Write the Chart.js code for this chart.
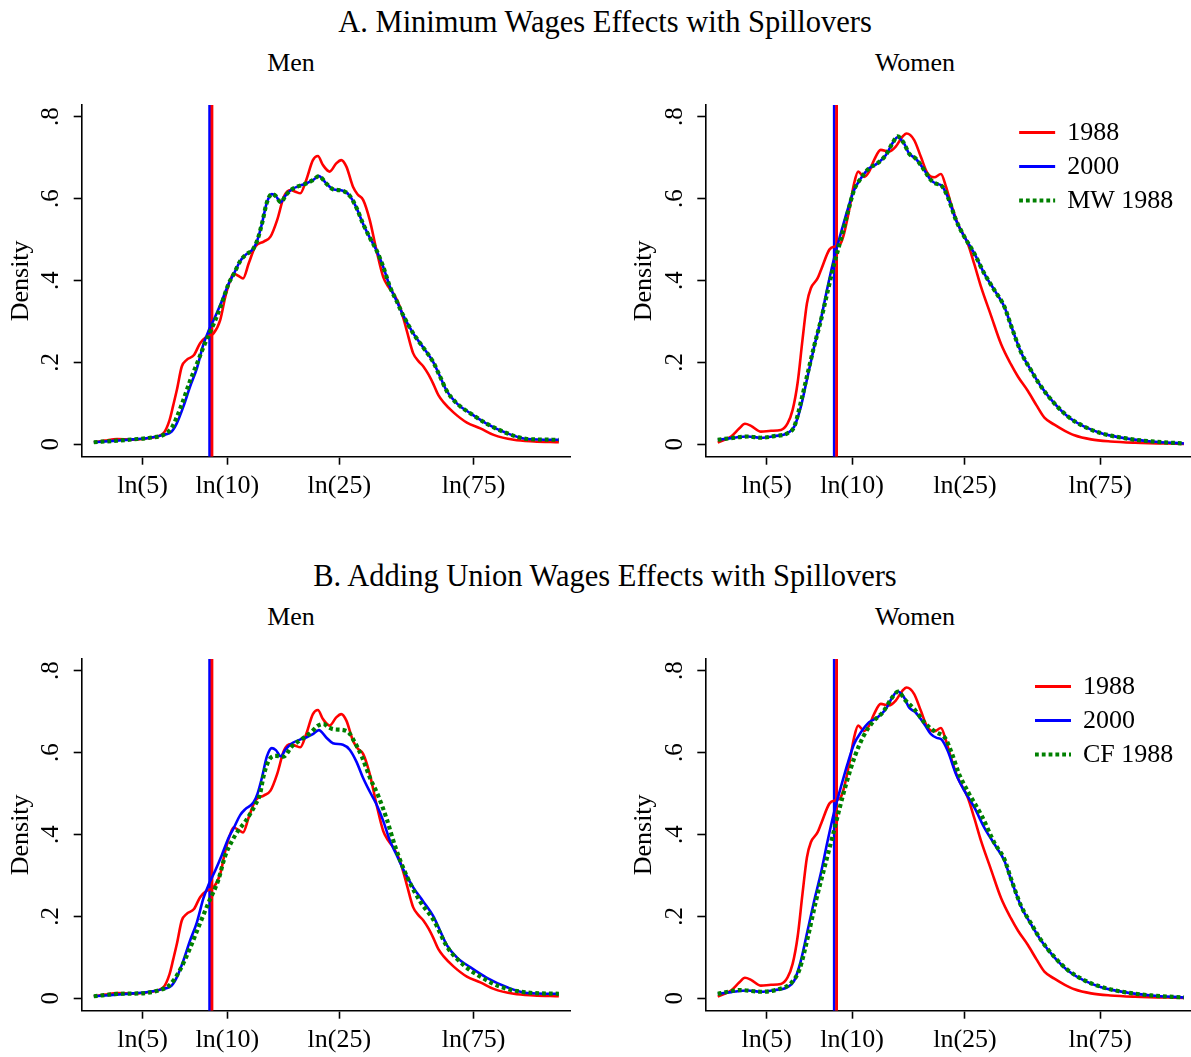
<!DOCTYPE html>
<html>
<head>
<meta charset="utf-8">
<script src="https://cdn.jsdelivr.net/npm/chart.js@4.4.0/dist/chart.umd.min.js"></script>
<style>
  html, body { margin: 0; padding: 0; background: #fff; }
  body { width: 1191px; height: 1057px; position: relative; overflow: hidden;
         font-family: 'Liberation Serif', 'Times New Roman', serif; color: #000; }
  .t { position: absolute; text-align: center; white-space: nowrap; }
  .main { font-size: 30.5px; line-height: 30px; width: 800px; }
  .sub { font-size: 26px; line-height: 26px; width: 200px; }
  canvas { position: absolute; }
</style>
</head>
<body>
<div class="t main" style="left:205px; top:7px;">A. Minimum Wages Effects with Spillovers</div>
<div class="t sub" style="left:191px; top:50px;">Men</div>
<div class="t sub" style="left:815px; top:50px;">Women</div>
<div class="t main" style="left:205px; top:561px;">B. Adding Union Wages Effects with Spillovers</div>
<div class="t sub" style="left:191px; top:604px;">Men</div>
<div class="t sub" style="left:815px; top:604px;">Women</div>

<canvas id="aMen" width="596" height="503" style="left:0px; top:0px;"></canvas>
<canvas id="aWomen" width="612" height="503" style="left:595px; top:0px;"></canvas>
<canvas id="bMen" width="596" height="503" style="left:0px; top:554px;"></canvas>
<canvas id="bWomen" width="612" height="503" style="left:595px; top:554px;"></canvas>

<script>
// axes: x = log hourly wage, y = kernel density
const xTickWages = [5, 10, 25, 75];
const xTickLabels = ['ln(5)', 'ln(10)', 'ln(25)', 'ln(75)'];
const yTickValues = [0, 0.2, 0.4, 0.6, 0.8];
const yTickLabels = ['0', '.2', '.4', '.6', '.8'];
const xMin = 1.111, xMax = 5.107;
const yMin = -0.0303, yMax = 0.8286;
const minWageLn = [2.177, 2.158]; // 1988, 2000

// men
const menLn88 = [1.21, 1.30, 1.40, 1.53, 1.67, 1.78, 1.83, 1.86, 1.89, 1.93, 1.97, 2.03, 2.08, 2.135, 2.19, 2.245, 2.286, 2.327, 2.354, 2.395, 2.431, 2.478, 2.532, 2.601, 2.656, 2.711, 2.766, 2.82, 2.86, 2.90, 2.948, 3.003, 3.044, 3.085, 3.14, 3.194, 3.235, 3.277, 3.331, 3.37, 3.414, 3.468, 3.523, 3.578, 3.62, 3.66, 3.715, 3.77, 3.824, 3.87, 3.907, 3.95, 3.989, 4.03, 4.071, 4.153, 4.263, 4.373, 4.482, 4.647, 4.811, 5.016];
const menDen88 = [0.005, 0.009, 0.013, 0.011, 0.016, 0.027, 0.059, 0.095, 0.133, 0.19, 0.206, 0.218, 0.247, 0.263, 0.271, 0.304, 0.36, 0.401, 0.417, 0.411, 0.405, 0.442, 0.483, 0.495, 0.507, 0.548, 0.605, 0.621, 0.617, 0.613, 0.645, 0.694, 0.704, 0.682, 0.666, 0.686, 0.694, 0.678, 0.629, 0.61, 0.597, 0.548, 0.474, 0.409, 0.385, 0.369, 0.336, 0.279, 0.222, 0.202, 0.19, 0.17, 0.147, 0.12, 0.103, 0.078, 0.053, 0.039, 0.023, 0.011, 0.007, 0.005];

const menLn00 = [1.21, 1.40, 1.53, 1.67, 1.78, 1.847, 1.889, 1.943, 1.998, 2.053, 2.108, 2.149, 2.204, 2.258, 2.313, 2.354, 2.409, 2.45, 2.516, 2.55, 2.587, 2.626, 2.667, 2.70, 2.74, 2.783, 2.838, 2.893, 2.948, 3.003, 3.052, 3.112, 3.167, 3.249, 3.304, 3.359, 3.414, 3.468, 3.523, 3.578, 3.633, 3.688, 3.742, 3.824, 3.907, 3.989, 4.044, 4.099, 4.181, 4.29, 4.427, 4.592, 4.756, 5.016];
const menDen00 = [0.005, 0.009, 0.012, 0.016, 0.023, 0.031, 0.051, 0.092, 0.141, 0.185, 0.245, 0.277, 0.312, 0.35, 0.392, 0.415, 0.448, 0.462, 0.478, 0.50, 0.54, 0.59, 0.611, 0.606, 0.591, 0.609, 0.624, 0.631, 0.637, 0.645, 0.655, 0.637, 0.623, 0.619, 0.607, 0.578, 0.538, 0.505, 0.474, 0.434, 0.385, 0.35, 0.315, 0.271, 0.236, 0.2, 0.165, 0.13, 0.1, 0.076, 0.05, 0.027, 0.013, 0.011];

const menLnMW = menLn00;
const menDenMW = [0.005, 0.009, 0.012, 0.016, 0.023, 0.04, 0.066, 0.108, 0.155, 0.196, 0.238, 0.266, 0.303, 0.345, 0.392, 0.415, 0.448, 0.462, 0.478, 0.50, 0.54, 0.59, 0.611, 0.606, 0.591, 0.609, 0.624, 0.631, 0.637, 0.645, 0.655, 0.637, 0.623, 0.619, 0.607, 0.578, 0.538, 0.505, 0.474, 0.434, 0.385, 0.35, 0.315, 0.271, 0.236, 0.2, 0.165, 0.13, 0.1, 0.076, 0.05, 0.027, 0.013, 0.011];

const menLnCF = [1.21, 1.42, 1.59, 1.75, 1.833, 1.915, 1.997, 2.079, 2.147, 2.229, 2.284, 2.339, 2.393, 2.448, 2.53, 2.571, 2.598, 2.626, 2.66, 2.70, 2.762, 2.83, 2.912, 2.994, 3.04, 3.089, 3.13, 3.171, 3.253, 3.30, 3.335, 3.404, 3.472, 3.54, 3.609, 3.677, 3.773, 3.882, 3.991, 4.101, 4.237, 4.374, 4.538, 4.757, 5.016];
const menDenCF = [0.005, 0.011, 0.012, 0.02, 0.033, 0.069, 0.122, 0.183, 0.232, 0.289, 0.347, 0.383, 0.41, 0.431, 0.472, 0.50, 0.541, 0.57, 0.588, 0.592, 0.59, 0.615, 0.633, 0.651, 0.665, 0.67, 0.662, 0.657, 0.655, 0.648, 0.631, 0.59, 0.537, 0.493, 0.436, 0.37, 0.297, 0.236, 0.191, 0.126, 0.081, 0.053, 0.028, 0.014, 0.011];

// women
const womLn88 = [1.212, 1.32, 1.388, 1.433, 1.482, 1.563, 1.644, 1.725, 1.779, 1.82, 1.86, 1.90, 1.936, 1.968, 2.022, 2.052, 2.12, 2.175, 2.211, 2.238, 2.279, 2.319, 2.352, 2.40, 2.441, 2.481, 2.535, 2.603, 2.657, 2.711, 2.745, 2.807, 2.861, 2.915, 2.97, 3.024, 3.065, 3.105, 3.159, 3.241, 3.295, 3.349, 3.43, 3.512, 3.593, 3.65, 3.73, 3.80, 3.864, 3.945, 4.03, 4.108, 4.243, 4.40, 4.60, 4.997];
const womDen88 = [0.004, 0.019, 0.039, 0.05, 0.045, 0.031, 0.033, 0.035, 0.051, 0.084, 0.149, 0.255, 0.344, 0.381, 0.405, 0.427, 0.476, 0.484, 0.491, 0.515, 0.572, 0.637, 0.666, 0.653, 0.666, 0.694, 0.719, 0.715, 0.727, 0.751, 0.759, 0.743, 0.702, 0.662, 0.652, 0.66, 0.629, 0.588, 0.54, 0.491, 0.44, 0.385, 0.315, 0.245, 0.195, 0.165, 0.13, 0.095, 0.065, 0.048, 0.033, 0.022, 0.012, 0.007, 0.004, 0.001];

const womLn00 = [1.212, 1.32, 1.455, 1.563, 1.671, 1.779, 1.833, 1.887, 1.941, 1.995, 2.049, 2.103, 2.157, 2.211, 2.265, 2.319, 2.373, 2.441, 2.508, 2.576, 2.63, 2.671, 2.724, 2.765, 2.819, 2.888, 2.943, 2.99, 3.024, 3.078, 3.146, 3.214, 3.295, 3.376, 3.457, 3.539, 3.593, 3.674, 3.755, 3.837, 3.945, 4.054, 4.189, 4.325, 4.514, 4.731, 4.997];
const womDen00 = [0.011, 0.015, 0.019, 0.016, 0.02, 0.027, 0.043, 0.092, 0.165, 0.238, 0.305, 0.383, 0.455, 0.515, 0.572, 0.621, 0.649, 0.674, 0.686, 0.706, 0.735, 0.75, 0.735, 0.71, 0.698, 0.67, 0.645, 0.636, 0.633, 0.605, 0.548, 0.507, 0.466, 0.417, 0.377, 0.336, 0.29, 0.225, 0.181, 0.141, 0.1, 0.068, 0.043, 0.027, 0.015, 0.007, 0.002];

const womLnMW = womLn00;
const womDenMW = [0.011, 0.015, 0.019, 0.016, 0.02, 0.027, 0.043, 0.103, 0.172, 0.24, 0.302, 0.372, 0.44, 0.5, 0.563, 0.621, 0.649, 0.674, 0.686, 0.706, 0.735, 0.752, 0.735, 0.71, 0.698, 0.67, 0.645, 0.636, 0.633, 0.605, 0.548, 0.507, 0.466, 0.417, 0.377, 0.336, 0.29, 0.225, 0.181, 0.141, 0.1, 0.068, 0.043, 0.027, 0.015, 0.007, 0.002];

const womLnCF = [1.212, 1.399, 1.563, 1.726, 1.807, 1.875, 1.944, 2.011, 2.079, 2.148, 2.202, 2.256, 2.324, 2.393, 2.474, 2.556, 2.624, 2.678, 2.732, 2.814, 2.895, 2.977, 3.059, 3.113, 3.168, 3.25, 3.358, 3.457, 3.539, 3.593, 3.674, 3.755, 3.837, 3.945, 4.054, 4.189, 4.325, 4.514, 4.731, 4.997];
const womDenCF = [0.011, 0.02, 0.016, 0.024, 0.037, 0.07, 0.15, 0.24, 0.32, 0.40, 0.465, 0.525, 0.59, 0.639, 0.676, 0.70, 0.733, 0.749, 0.729, 0.704, 0.672, 0.651, 0.635, 0.598, 0.55, 0.501, 0.444, 0.38, 0.34, 0.292, 0.226, 0.183, 0.142, 0.101, 0.069, 0.044, 0.028, 0.015, 0.007, 0.002];

const RED = '#ff0000', BLUE = '#0000ff', GREEN = '#008000';
const FONT = "'Liberation Serif', 'Times New Roman', serif";

function curve(label, xs, ys, color, dotted, order) {
  return {
    label: label,
    data: xs.map((x, i) => ({ x: x, y: ys[i] })),
    showLine: true,
    borderColor: color,
    borderWidth: dotted ? 4.2 : 2.6,
    borderDash: dotted ? [3.8, 3] : [],
    borderCapStyle: 'butt',
    pointRadius: 0,
    cubicInterpolationMode: 'monotone',
    order: order
  };
}

function vline(x, color, order) {
  return {
    data: [{ x: x, y: yMin }, { x: x, y: yMax }],
    showLine: true,
    borderColor: color,
    borderWidth: 2.8,
    pointRadius: 0,
    order: order
  };
}

// y tick labels, y title and the legend, drawn rotated like Stata does
const panelText = {
  id: 'panelText',
  afterDraw(chart, args, opts) {
    const ctx = chart.ctx, area = chart.chartArea, ys = chart.scales.y;
    ctx.save();
    ctx.fillStyle = '#000';
    ctx.textAlign = 'center';
    ctx.textBaseline = 'alphabetic';
    ctx.font = '25px ' + FONT;
    yTickValues.forEach((v, i) => {
      ctx.save();
      ctx.translate(area.left - 23.5, ys.getPixelForValue(v));
      ctx.rotate(-Math.PI / 2);
      ctx.fillText(yTickLabels[i], 0, 0);
      ctx.restore();
    });
    ctx.font = '26px ' + FONT;
    ctx.save();
    ctx.translate(area.left - 54, (area.top + area.bottom) / 2);
    ctx.rotate(-Math.PI / 2);
    ctx.fillText('Density', 0, 0);
    ctx.restore();

    if (opts.legend) {
      const items = chart.data.datasets.filter(d => d.label);
      items.sort((a, b) => b.order - a.order);
      ctx.textAlign = 'left';
      const w = Math.max(...items.map(d => ctx.measureText(d.label).width));
      const tx = area.left + 468 - w;
      items.forEach((d, i) => {
        const y = area.top + 27.5 + 34 * i;
        ctx.beginPath();
        ctx.setLineDash(d.borderDash);
        ctx.lineCap = 'butt';
        ctx.strokeStyle = d.borderColor;
        ctx.lineWidth = d.borderDash.length ? 4 : 3;
        ctx.moveTo(tx - 48, y);
        ctx.lineTo(tx - 12, y);
        ctx.stroke();
        ctx.setLineDash([]);
        ctx.fillText(d.label, tx, y + 7.5);
      });
    }
    ctx.restore();
  }
};

function makePanel(id, ln88, den88, ln00, den00, lnG, denG, gLabel, legend, padLeft, padRight) {
  return new Chart(document.getElementById(id), {
    type: 'scatter',
    data: {
      datasets: [
        vline(minWageLn[1], BLUE, 6),
        vline(minWageLn[0], RED, 5),
        curve('1988', ln88, den88, RED, false, 3),
        curve('2000', ln00, den00, BLUE, false, 2),
        curve(gLabel, lnG, denG, GREEN, true, 1)
      ]
    },
    options: {
      responsive: false,
      animation: false,
      devicePixelRatio: 1,
      layout: { padding: { left: padLeft, right: padRight, top: 105, bottom: 0 } },
      plugins: {
        legend: { display: false },
        tooltip: { enabled: false },
        panelText: { legend: legend }
      },
      scales: {
        x: {
          type: 'linear',
          min: xMin,
          max: xMax,
          afterBuildTicks: s => { s.ticks = xTickWages.map(w => ({ value: Math.log(w) })); },
          afterFit: s => { s.height = 46.3; },
          ticks: {
            callback: (v, i) => xTickLabels[i],
            font: { family: FONT, size: 26 },
            color: '#000',
            padding: 6,
            maxRotation: 0,
            autoSkip: false
          },
          grid: { drawOnChartArea: false, tickLength: 8, tickWidth: 1.6, tickColor: '#000' },
          border: { color: '#000', width: 1.6 }
        },
        y: {
          type: 'linear',
          min: yMin,
          max: yMax,
          afterBuildTicks: s => { s.ticks = yTickValues.map(v => ({ value: v })); },
          afterFit: s => { s.width = 81.7; },
          ticks: { display: false },
          grid: { drawOnChartArea: false, tickLength: 8, tickWidth: 1.6, tickColor: '#000' },
          border: { color: '#000', width: 1.6 }
        }
      }
    },
    plugins: [panelText]
  });
}

makePanel('aMen', menLn88, menDen88, menLn00, menDen00, menLnMW, menDenMW, 'MW 1988', false, 0, 26);
makePanel('aWomen', womLn88, womDen88, womLn00, womDen00, womLnMW, womDenMW, 'MW 1988', true, 28.6, 9.5);
makePanel('bMen', menLn88, menDen88, menLn00, menDen00, menLnCF, menDenCF, 'CF 1988', false, 0, 26);
makePanel('bWomen', womLn88, womDen88, womLn00, womDen00, womLnCF, womDenCF, 'CF 1988', true, 28.6, 9.5);
</script>
</body>
</html>
